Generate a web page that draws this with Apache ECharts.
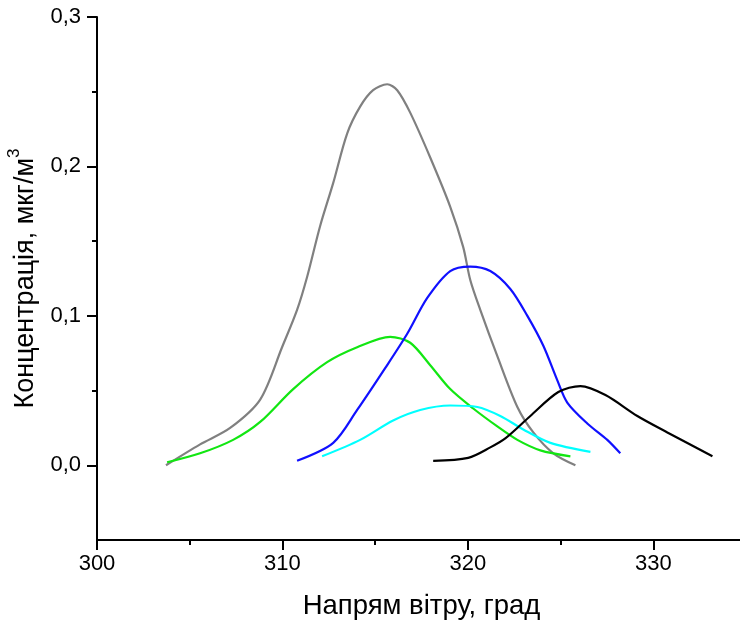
<!DOCTYPE html>
<html>
<head>
<meta charset="utf-8">
<script src="https://cdn.jsdelivr.net/npm/echarts@6/dist/echarts.min.js"></script>
<style>html,body{margin:0;padding:0;background:#fff}#c{width:740px;height:625px}</style>
</head>
<body>
<div id="c"></div>
<script>
// Data (wind direction in degrees, concentration)
const grayX = [303.72,305.56,307.18,308.80,309.98,310.79,311.33,312.03,312.74,313.49,314.19,314.89,315.65,316.19,316.89,317.97,319.05,319.75,320.13,320.67,321.59,322.67,323.53,324.61,325.80];
const grayY = [0.000,0.014,0.025,0.044,0.079,0.104,0.126,0.160,0.189,0.222,0.240,0.251,0.255,0.251,0.236,0.206,0.173,0.146,0.124,0.104,0.073,0.039,0.022,0.008,0.000];

const blueX = [310.79,312.74,314.03,315.54,316.73,317.81,319.05,320.13,321.21,322.29,323.21,324.07,324.82,325.36,326.44,327.52,328.22];
const blueY = [0.003,0.015,0.037,0.065,0.088,0.112,0.130,0.133,0.130,0.118,0.100,0.080,0.057,0.042,0.028,0.017,0.008];

const greenX = [303.78,305.56,307.34,308.80,310.58,312.41,314.03,315.81,316.89,317.97,319.05,320.29,321.59,322.67,323.91,325.53];
const greenY = [0.002,0.008,0.017,0.029,0.051,0.069,0.079,0.086,0.082,0.067,0.051,0.038,0.026,0.017,0.010,0.006];

const cyanX = [312.14,314.19,315.97,317.43,319.05,320.51,321.75,322.99,324.45,326.61];
const cyanY = [0.006,0.017,0.030,0.037,0.040,0.039,0.033,0.024,0.015,0.009];

const blackX = [318.13,320.02,321.21,322.02,323.37,324.88,326.07,327.42,329.14,330.76,333.19];
const blackY = [0.003,0.005,0.012,0.018,0.033,0.049,0.053,0.047,0.033,0.022,0.006];

const xMajor = [300, 310, 320, 330];
const xMinor = [305, 315, 325];
const yMajor = [0, 0.1, 0.2, 0.3];
const yMinor = [0.05, 0.15, 0.25];

const xTitle = 'Напрям вітру, град';
const yTitleMain = 'Концентрація, мкг/м';
const yTitleSup = '3';

function pairs(xs, ys) { return xs.map((x, i) => [x, ys[i]]); }

const font = 'Liberation Sans, Arial, sans-serif';
const axisLine = { show: true, onZero: false, lineStyle: { color: '#000', width: 2 } };

const chart = echarts.init(document.getElementById('c'), null, { renderer: 'canvas' });
chart.setOption({
  animation: false,
  backgroundColor: '#fff',
  grid: { left: 97, top: 17, right: -6, bottom: 85, containLabel: false, outerBoundsMode: 'none' },
  xAxis: [{
    type: 'value', min: 300, max: 335, interval: 5,
    name: xTitle, nameLocation: 'middle', nameGap: 52,
    nameTextStyle: { fontFamily: font, fontSize: 27.5, color: '#000' },
    axisLine: axisLine,
    axisTick: { show: true, inside: false, length: 10, lineStyle: { color: '#000', width: 2 }, customValues: xMajor },
    axisLabel: { show: true, margin: 13, fontFamily: font, fontSize: 22, color: '#000', customValues: xMajor },
    splitLine: { show: false }
  }, {
    type: 'value', min: 300, max: 335, interval: 5, position: 'bottom', gridIndex: 0,
    axisLine: { show: false, onZero: false },
    axisTick: { show: true, inside: false, length: 5, lineStyle: { color: '#000', width: 2 }, customValues: xMinor },
    axisLabel: { show: false },
    splitLine: { show: false }
  }],
  yAxis: [{
    type: 'value', min: -0.05, max: 0.3, interval: 0.05,
    name: '{a|' + yTitleMain + '}{s|' + yTitleSup + '}',
    nameLocation: 'middle', nameGap: 48,
    nameTextStyle: {
      fontFamily: font, color: '#000',
      rich: {
        a: { fontFamily: font, fontSize: 27, color: '#000', lineHeight: 34, verticalAlign: 'bottom' },
        s: { fontFamily: font, fontSize: 17, color: '#000', lineHeight: 34, verticalAlign: 'top' }
      }
    },
    axisLine: axisLine,
    axisTick: { show: true, inside: false, length: 10, lineStyle: { color: '#000', width: 2 }, customValues: yMajor },
    axisLabel: {
      show: true, margin: 16, fontFamily: font, fontSize: 22, color: '#000', customValues: yMajor,
      formatter: v => v.toFixed(1).replace('.', ',')
    },
    splitLine: { show: false }
  }, {
    type: 'value', min: -0.05, max: 0.3, interval: 0.05, position: 'left', gridIndex: 0,
    axisLine: { show: false, onZero: false },
    axisTick: { show: true, inside: false, length: 5, lineStyle: { color: '#000', width: 2 }, customValues: yMinor },
    axisLabel: { show: false },
    splitLine: { show: false }
  }],
  series: [
    { type: 'line', data: pairs(grayX, grayY), color: '#808080' },
    { type: 'line', data: pairs(greenX, greenY), color: '#12e612' },
    { type: 'line', data: pairs(blueX, blueY), color: '#1010ff' },
    { type: 'line', data: pairs(cyanX, cyanY), color: '#00ffff' },
    { type: 'line', data: pairs(blackX, blackY), color: '#000000' }
  ].map(s => Object.assign(s, {
    showSymbol: false, symbol: 'none', smooth: 0.3, clip: false,
    lineStyle: { width: 2.2, color: s.color }
  }))
});
</script>
</body>
</html>
